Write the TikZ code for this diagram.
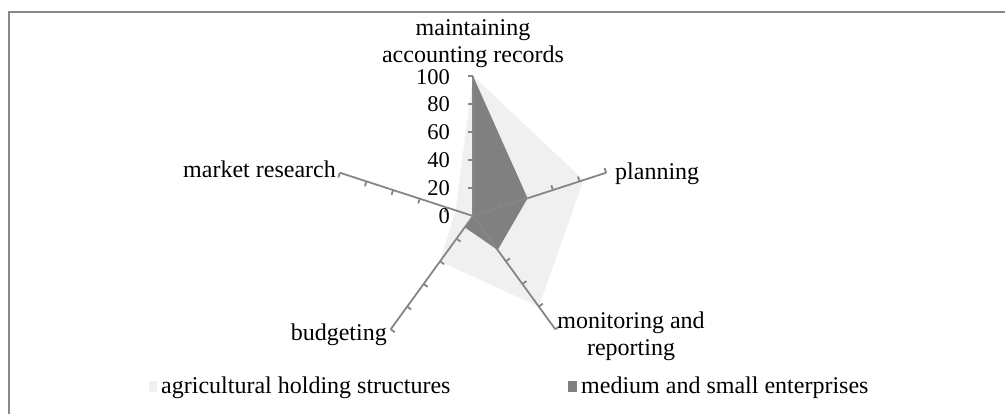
\documentclass[tikz,border=0pt]{standalone}
\usepackage{fontspec}
\setmainfont{Liberation Serif}
\usetikzlibrary{calc}
\definecolor{axisgray}{HTML}{868686}
\definecolor{lightfill}{HTML}{F0F0F0}
\definecolor{darkfill}{HTML}{808080}
\definecolor{framegray}{HTML}{888888}
\begin{document}
\begin{tikzpicture}[x=1pt,y=1pt,
  font=\fontsize{24}{27}\selectfont,
  axisline/.style={draw=axisgray, line width=1.8pt},
  lbl/.style={inner sep=0pt},
  num/.style={inner sep=0pt, anchor=east, font=\fontsize{22.5}{27}\selectfont}]
\useasboundingbox (0,0) rectangle (1005,-413);
\fill[white] (0,0) rectangle (1005,-413);
\draw[framegray, line width=2pt] (9,-420) -- (9,-12) -- (1012,-12);
\coordinate (O) at (473,-216);
% series
\fill[lightfill, shift={(O)}] (90:140) -- (18:116.2) -- (-54:112) -- (-126:56) -- (162:18.2) -- cycle;
\fill[darkfill, shift={(O)}] (90:140) -- (18:57.4) -- (-54:42) -- (-126:14) -- (0,0) -- cycle;
% axes
\foreach \a/\n in {90/a1,18/a2,-54/a3,-126/a4,162/a5}{
  \coordinate (\n) at ($(O)+(\a:140)$);
  \draw[axisline] (O) -- (\n);
  \foreach \r in {28,56,84,112,140}
    \draw[axisline] ($(O)+(\a:\r)$) -- ++(\a+90:5);
}
% scale numbers
\node[num] (n0) at (450,-216) {0};
\node[num] (n20) at (450,-188) {20};
\node[num] (n40) at (450,-160) {40};
\node[num] (n60) at (450,-132) {60};
\node[num] (n80) at (450,-104) {80};
\node[num] (n100) at (450,-77) {100};
% axis labels
\node[lbl, anchor=base] (lm1) at (473,-35) {maintaining};
\node[lbl, anchor=base] (lm2) at (473,-62) {accounting records};
\node[lbl, anchor=base west] (lp) at (615,-179) {planning};
\node[lbl, anchor=base] (lr1) at (631,-328) {monitoring and};
\node[lbl, anchor=base] (lr2) at (631,-355) {reporting};
\node[lbl, anchor=base east] (lb) at (387,-340) {budgeting};
\node[lbl, anchor=base east] (lmr) at (336,-177) {market research};
% legend
\fill[lightfill] (149,-381) rectangle (157,-392);
\node[lbl, anchor=base west] (leg1) at (161,-393) {agricultural holding structures};
\fill[darkfill] (568,-381) rectangle (577,-392);
\node[lbl, anchor=base west] (leg2) at (581,-393) {medium and small enterprises};
\end{tikzpicture}
\end{document}
